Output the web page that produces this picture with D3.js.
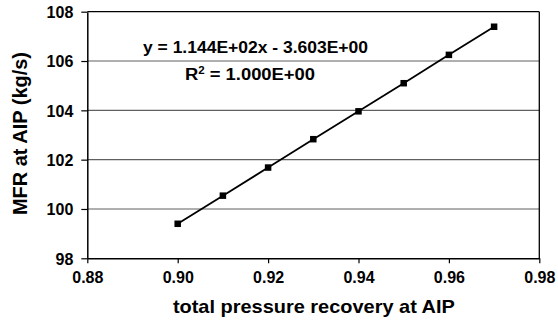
<!DOCTYPE html>
<html><head><meta charset="utf-8">
<script src="https://cdn.jsdelivr.net/npm/d3@7"></script>
<style>
html,body{margin:0;padding:0;background:#fff;}
svg{display:block;}
text{font-family:"Liberation Sans",Arial,Helvetica,sans-serif;font-weight:bold;fill:#000;}
</style></head>
<body>
<svg id="chart" width="558" height="323"></svg>
<script>
const recovery = [0.90, 0.91, 0.92, 0.93, 0.94, 0.95, 0.96, 0.97];
const mfr = [99.40, 100.54, 101.68, 102.83, 103.96, 105.10, 106.25, 107.39];
const xTicks = [0.88, 0.90, 0.92, 0.94, 0.96, 0.98];
const yTicks = [98, 100, 102, 104, 106, 108];
const xTitle = "total pressure recovery at AIP";
const yTitle = "MFR at AIP (kg/s)";
const eqLine = "y = 1.144E+02x - 3.603E+00";
const r2Value = " = 1.000E+00";

const svg = d3.select("#chart");
const L = 87.3, R = 539.3, T = 11.7, B = 258.3;
const x = d3.scaleLinear().domain([0.88, 0.98]).range([L, R]);
const y = d3.scaleLinear().domain([98, 108]).range([B, T]);

// gridlines
svg.append("g").selectAll("line").data(yTicks.filter(v => v > 98 && v < 108)).join("line")
  .attr("x1", L).attr("x2", R).attr("y1", d => y(d)).attr("y2", d => y(d))
  .attr("stroke", "#606060").attr("stroke-width", 1.2);

// top & right border
svg.append("line").attr("x1", L).attr("x2", R).attr("y1", y(108)).attr("y2", y(108)).attr("stroke", "#000").attr("stroke-width", 1.3);
svg.append("line").attr("x1", R).attr("x2", R).attr("y1", T).attr("y2", B).attr("stroke", "#000").attr("stroke-width", 1.3);

// axes
const xa = svg.append("g").attr("transform", `translate(0,${B})`)
  .call(d3.axisBottom(x).tickValues(xTicks).tickFormat(d3.format(".2f")).tickSize(5).tickSizeOuter(0).tickPadding(8));
const ya = svg.append("g").attr("transform", `translate(${L},0)`)
  .call(d3.axisLeft(y).tickValues(yTicks).tickFormat(d3.format("d")).tickSize(6).tickSizeOuter(0).tickPadding(8));
[xa, ya].forEach(g => {
  g.attr("font-family", null).attr("font-size", null);
  g.select(".domain").attr("stroke", "#000").attr("stroke-width", 1.5);
  g.selectAll(".tick line").attr("stroke", "#000").attr("stroke-width", 1.2);
  g.selectAll("text").attr("font-size", 16).style("font-weight", "bold");
});
ya.selectAll("text").attr("dy", "0.36em");

// line through data
const pts = recovery.map((r, i) => [r, mfr[i]]);
svg.append("path").datum(pts)
  .attr("d", d3.line().x(d => x(d[0])).y(d => y(d[1])))
  .attr("fill", "none").attr("stroke", "#000").attr("stroke-width", 1.8);

// markers
const ms = 6.5;
svg.append("g").selectAll("rect").data(pts).join("rect")
  .attr("x", d => x(d[0]) - ms / 2).attr("y", d => y(d[1]) - ms / 2)
  .attr("width", ms).attr("height", ms).attr("fill", "#000");

// equation
svg.append("text").attr("x", 143).attr("y", 53.3).attr("font-size", 16)
  .attr("textLength", 225).attr("lengthAdjust", "spacingAndGlyphs").text(eqLine);
const r2 = svg.append("text").attr("x", 185).attr("y", 80).attr("font-size", 16)
  .attr("textLength", 130).attr("lengthAdjust", "spacingAndGlyphs");
r2.append("tspan").text("R");
r2.append("tspan").attr("font-size", 10).attr("dy", -6).text("2");
r2.append("tspan").attr("dy", 6).text(r2Value);

// axis titles
svg.append("text").attr("x", 313.9).attr("y", 313).attr("text-anchor", "middle").attr("font-size", 19)
  .attr("textLength", 282).attr("lengthAdjust", "spacingAndGlyphs").text(xTitle);
svg.append("text").attr("transform", "translate(26.5,133.5) rotate(-90)").attr("text-anchor", "middle")
  .attr("font-size", 20).attr("textLength", 163).attr("lengthAdjust", "spacingAndGlyphs").text(yTitle);
</script>
</body></html>
